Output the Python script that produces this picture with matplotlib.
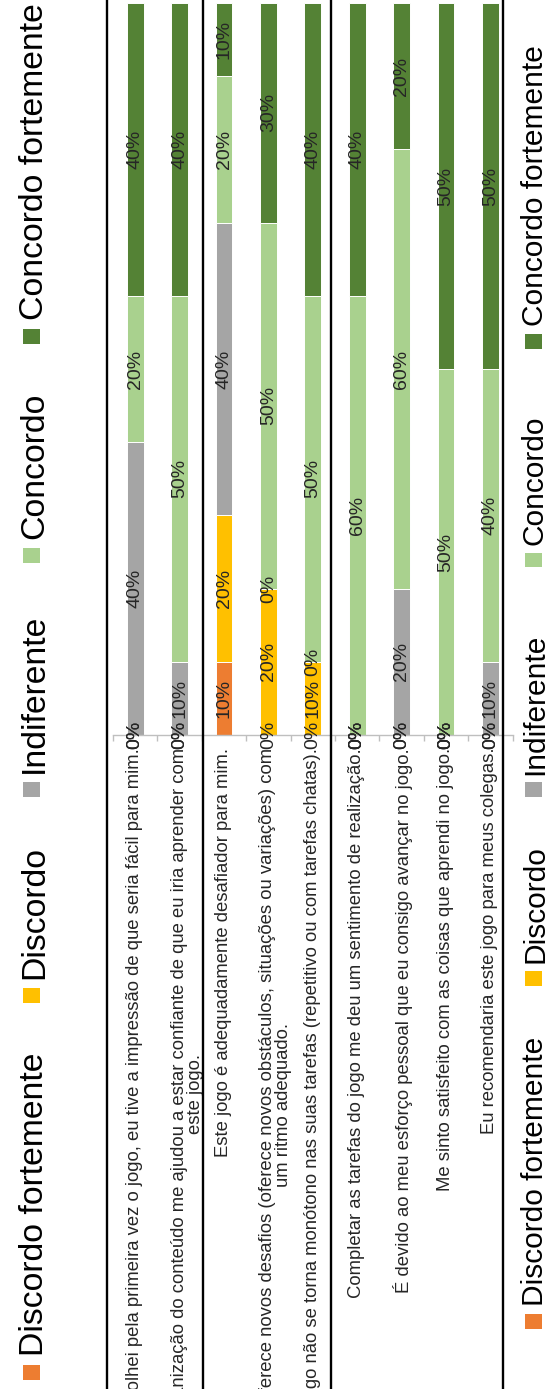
import matplotlib
matplotlib.use("Agg")
import matplotlib.pyplot as plt
from matplotlib import transforms
from matplotlib.patches import Rectangle
from matplotlib.lines import Line2D
import numpy as np

plt.rcParams["font.family"] = ["Liberation Sans", "DejaVu Sans"]

# ---- data -------------------------------------------------------------
categories = [
    "Quando olhei pela primeira vez o jogo, eu tive a impressão de que seria fácil para mim.",
    "A organização do conteúdo me ajudou a estar confiante de que eu iria aprender com\neste jogo.",
    "Este jogo é adequadamente desafiador para mim.",
    "O jogo oferece novos desafios (oferece novos obstáculos, situações ou variações) com\num ritmo adequado.",
    "O jogo não se torna monótono nas suas tarefas (repetitivo ou com tarefas chatas).",
    "Completar as tarefas do jogo me deu um sentimento de realização.",
    "É devido ao meu esforço pessoal que eu consigo avançar no jogo.",
    "Me sinto satisfeito com as coisas que aprendi no jogo.",
    "Eu recomendaria este jogo para meus colegas.",
]
levels = ["Discordo fortemente", "Discordo", "Indiferente", "Concordo", "Concordo fortemente"]
discordo_fortemente = [0, 0, 10, 0, 0, 0, 0, 0, 0]
discordo = [0, 0, 20, 20, 10, 0, 0, 0, 0]
indiferente = [40, 10, 40, 0, 0, 0, 20, 0, 10]
concordo = [20, 50, 20, 50, 50, 60, 60, 50, 40]
concordo_fortemente = [40, 40, 10, 30, 40, 40, 20, 50, 50]
colors = ["#ED7D31", "#FFC000", "#A5A5A5", "#A9D18E", "#548235"]

series = [discordo_fortemente, discordo, indiferente, concordo, concordo_fortemente]

# ---- figure (pixel helpers) -------------------------------------------
W, H, DPI = 555, 1389, 100
fig = plt.figure(figsize=(W / DPI, H / DPI), dpi=DPI)


def fx(px):
    return px / W


def fy(py):
    return 1 - py / H


ax_left, ax_right, ax_bottom, ax_top = 113, 512.6, 735, 3
ax = fig.add_axes([fx(ax_left), fy(ax_bottom), (ax_right - ax_left) / W,
                   (ax_bottom - ax_top) / H])

x = np.arange(len(categories))
bottom = np.zeros(len(categories))
for name, vals, col in zip(levels, series, colors):
    vals = np.array(vals, dtype=float)
    ax.bar(x, vals, bottom=bottom, width=0.38, color=col,
           edgecolor="white", linewidth=0.7, label=name, zorder=2)
    for xi, b, v in zip(x, bottom, vals):
        ax.text(xi, b + v / 2, f"{int(v)}%", rotation=90, ha="center",
                va="center", fontsize=14, color="#262626", zorder=4,
                clip_on=False)
    bottom += vals

ax.set_xlim(-0.5, len(categories) - 0.5)
ax.set_ylim(0, 100)
for s in ("top", "right", "left"):
    ax.spines[s].set_visible(False)
ax.spines["bottom"].set_color("#BFBFBF")
ax.spines["bottom"].set_linewidth(1.0)
ax.set_yticks([])
ax.set_xticks([])
ax.set_xticks(np.arange(-0.5, len(categories), 1), minor=True)
ax.tick_params(axis="x", which="minor", length=4, color="#BFBFBF",
               width=1.0, labelbottom=False)

# category labels, read bottom-to-top, ending just below the axis
lab_trans = transforms.offset_copy(ax.get_xaxis_transform(), fig=fig,
                                   x=-9, y=-13, units="dots")
for xi, lab in zip(x, categories):
    ax.text(xi, 0, lab, transform=lab_trans, rotation=90,
            rotation_mode="anchor", ha="right", va="top",
            multialignment="center", fontsize=13.3, linespacing=0.93,
            color="#262626", clip_on=False)

# frame lines of the surrounding table
for px in (107, 202.5, 331, 503):
    fig.add_artist(Line2D([fx(px), fx(px)], [0, 1], transform=fig.transFigure,
                          color="black", linewidth=1.7))


# legends on both sides
def legend_column(marker_x0, marker_w, text_x, centers, fontsize, gap):
    for name, col, yc in zip(levels, colors, centers):
        fig.add_artist(Rectangle((fx(marker_x0), fy(yc + 7.5)), marker_w / W,
                                 15 / H, transform=fig.transFigure,
                                 facecolor=col, edgecolor="none"))
        fig.text(fx(text_x), fy(yc - gap), name, rotation=90,
                 rotation_mode="anchor", ha="left", va="baseline",
                 fontsize=fontsize, color="black")


legend_column(23, 17, 43, [1372, 995, 789, 555, 336], 24.3, 16)
legend_column(525, 17, 543, [1321, 978, 790, 560, 341], 21.5, 15)

fig.savefig("out.png", dpi=DPI)
